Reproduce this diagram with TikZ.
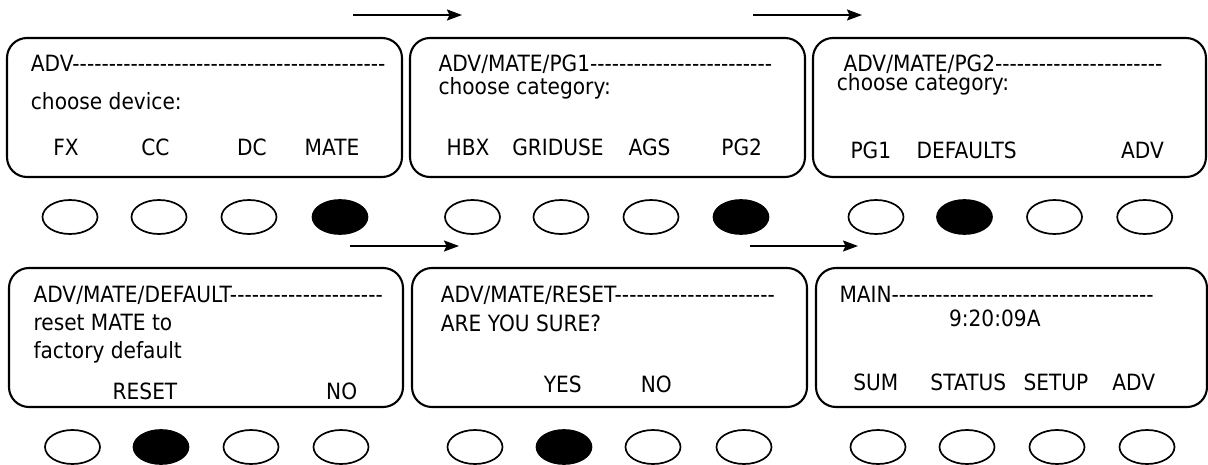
\documentclass[tikz,border=0pt]{standalone}
\usepackage{fontspec}
\setmainfont{DejaVu Sans}[Ligatures=TeXOff, FakeStretch=0.9]
\usetikzlibrary{shapes.geometric,arrows.meta}
\tikzset{
  screen/.style={draw=black, line width=2.1pt, rounded corners=20pt},
  txt/.style={anchor=base west, inner sep=0pt, font=\fontsize{22.4}{25}\selectfont},
  lbl/.style={anchor=base, inner sep=0pt, font=\fontsize{22.4}{25}\selectfont},
  btn/.style={draw=black, line width=1.7pt, ellipse, minimum width=55pt, minimum height=34pt, inner sep=0pt},
  btnon/.style={btn, fill=black},
  arr/.style={line width=1.8pt, -{Stealth[length=15pt,width=11pt,inset=2.5pt]}}
}
\begin{document}
\begin{tikzpicture}[x=1pt,y=-1pt]
\useasboundingbox (0,0) rectangle (1208,465);
% ---------- row 1 ----------
\draw[screen] (7,38) rectangle (402,177);
\draw[screen] (410,38) rectangle (805,177);
\draw[screen] (813,38) rectangle (1206,177);
% box 1
\node[txt] (t11) at (30.7,71.7) {ADV-------------------------------------------};
\node[txt] (t12) at (30.7,110) {choose device:};
\node[lbl] (l11) at (66,156) {FX};
\node[lbl] (l12) at (155.5,156) {CC};
\node[lbl] (l13) at (252,156) {DC};
\node[lbl] (l14) at (332,156) {MATE};
% box 2
\node[txt] (t21) at (438.3,71.7) {ADV/MATE/PG1-------------------------};
\node[txt] (t22) at (438.3,94.5) {choose category:};
\node[lbl] (l21) at (468,156) {HBX};
\node[lbl] (l22) at (558,156) {GRIDUSE};
\node[lbl] (l23) at (649.5,156) {AGS};
\node[lbl] (l24) at (741.7,156) {PG2};
% box 3
\node[txt] (t31) at (843.3,71.7) {ADV/MATE/PG2-----------------------};
\node[txt] (t32) at (836.7,90.5) {choose category:};
\node[lbl] (l31) at (870.8,159) {PG1};
\node[lbl] (l32) at (966.7,159) {DEFAULTS};
\node[lbl] (l33) at (1142.5,159) {ADV};
% buttons row 1
\node[btn]   (b11) at (70,217) {};
\node[btn]   (b12) at (159,217) {};
\node[btn]   (b13) at (249,217) {};
\node[btnon] (b14) at (340,217) {};
\node[btn]   (b21) at (472.5,217) {};
\node[btn]   (b22) at (561,217) {};
\node[btn]   (b23) at (651,217) {};
\node[btnon] (b24) at (741,217) {};
\node[btn]   (b31) at (876,217) {};
\node[btnon] (b32) at (964.5,217) {};
\node[btn]   (b33) at (1054.5,217) {};
\node[btn]   (b34) at (1144.7,217) {};
% arrows row 1
\coordinate (a1s) at (353,15);
\coordinate (a1e) at (462,15);
\coordinate (a2s) at (753,15);
\coordinate (a2e) at (862,15);
\draw[arr] (a1s) -- (a1e);
\draw[arr] (a2s) -- (a2e);
% ---------- row 2 ----------
\draw[screen] (9,268) rectangle (403,407);
\draw[screen] (412,268) rectangle (807,407);
\draw[screen] (816,268) rectangle (1207,407);
% box 4
\node[txt] (t41) at (33.3,302) {ADV/MATE/DEFAULT---------------------};
\node[txt] (t42) at (33.3,330) {reset MATE to};
\node[txt] (t43) at (33.3,358) {factory default};
\node[lbl] (l41) at (145,399) {RESET};
\node[lbl] (l42) at (341.7,399) {NO};
% box 5
\node[txt] (t51) at (440.7,302) {ADV/MATE/RESET----------------------};
\node[txt] (t52) at (440.7,331.7) {ARE YOU SURE?};
\node[lbl] (l51) at (562.8,392.7) {YES};
\node[lbl] (l52) at (656.3,392.7) {NO};
% box 6
\node[txt] (t61) at (839.3,302) {MAIN------------------------------------};
\node[lbl] (t62) at (994.8,326.7) {9:20:09A};
\node[lbl] (l61) at (875.8,390) {SUM};
\node[lbl] (l62) at (968.3,390) {STATUS};
\node[lbl] (l63) at (1056,390) {SETUP};
\node[lbl] (l64) at (1133.8,390) {ADV};
% buttons row 2
\node[btn]   (b41) at (72.5,447) {};
\node[btnon] (b42) at (161,447) {};
\node[btn]   (b43) at (251,447) {};
\node[btn]   (b44) at (341,447) {};
\node[btn]   (b51) at (475,447) {};
\node[btnon] (b52) at (564,447) {};
\node[btn]   (b53) at (653,447) {};
\node[btn]   (b54) at (744,447) {};
\node[btn]   (b61) at (878,447) {};
\node[btn]   (b62) at (967,447) {};
\node[btn]   (b63) at (1057,447) {};
\node[btn]   (b64) at (1147,447) {};
% arrows row 2
\coordinate (a3s) at (350,246);
\coordinate (a3e) at (459,246);
\coordinate (a4s) at (750,246);
\coordinate (a4e) at (858,246);
\draw[arr] (a3s) -- (a3e);
\draw[arr] (a4s) -- (a4e);
\end{tikzpicture}
\end{document}
